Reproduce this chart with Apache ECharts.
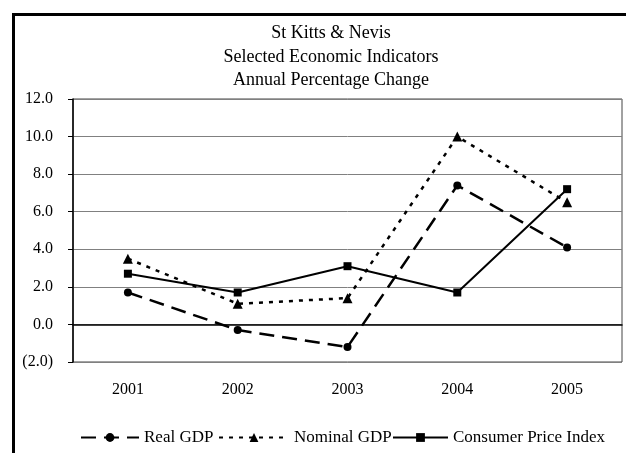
<!DOCTYPE html>
<html>
<head>
<meta charset="utf-8">
<script src="https://cdn.jsdelivr.net/npm/echarts@6/dist/echarts.min.js"></script>
<style>
  html, body { margin: 0; padding: 0; background: #fff; }
  #main { width: 626px; height: 453px; }
</style>
</head>
<body>
<div id="main"></div>
<script>
// data
var years = ['2001', '2002', '2003', '2004', '2005'];
var realGdp = [1.7, -0.3, -1.2, 7.4, 4.1];
var nominalGdp = [3.5, 1.1, 1.4, 10.0, 6.5];
var cpi = [2.7, 1.7, 3.1, 1.7, 7.2];
var seriesNames = ['Real GDP', 'Nominal GDP', 'Consumer Price Index'];

var font = 'Liberation Serif';

var myChart = echarts.init(document.getElementById('main'));

function legendFor(name, left, width) {
    return {
        left: left,
        top: 429,
        padding: 0,
        itemWidth: width,
        itemHeight: 11,
        textStyle: { fontFamily: font, fontSize: 17, color: '#000' },
        data: [name]
    };
}

var option = {
    animation: false,
    backgroundColor: '#fff',
    title: {
        text: 'St Kitts & Nevis\nSelected Economic Indicators\nAnnual Percentage Change',
        left: 326,
        top: 17,
        textAlign: 'center',
        textStyle: {
            fontFamily: font,
            fontSize: 18,
            fontWeight: 'normal',
            color: '#000',
            lineHeight: 23.5
        }
    },
    graphic: [{
        type: 'rect',
        shape: { x: 13.5, y: 14.5, width: 700, height: 500 },
        style: { fill: 'none', stroke: '#000', lineWidth: 3 },
        silent: true
    }],
    grid: {
        left: 73,
        right: 4,
        top: 99,
        bottom: 91,
        show: true,
        borderColor: '#444',
        borderWidth: 1
    },
    legend: [
        legendFor(seriesNames[0], 80, 58),
        legendFor(seriesNames[1], 218, 70),
        legendFor(seriesNames[2], 392, 55)
    ],
    xAxis: {
        type: 'category',
        data: years,
        boundaryGap: true,
        axisLine: { lineStyle: { color: '#000', width: 1.5 } },
        axisTick: { show: false },
        axisLabel: { margin: 20, fontFamily: font, fontSize: 16, color: '#000' },
        splitLine: { show: false }
    },
    yAxis: {
        type: 'value',
        min: -2,
        max: 12,
        interval: 2,
        axisLine: { show: true, lineStyle: { color: '#000', width: 1.5 } },
        axisTick: { show: true, length: 5, lineStyle: { color: '#000' } },
        axisLabel: {
            margin: 20,
            fontFamily: font,
            fontSize: 16,
            color: '#000',
            formatter: function (v) {
                if (v < 0) return '(' + Math.abs(v).toFixed(1) + ')';
                return v.toFixed(1);
            }
        },
        splitLine: { show: true, lineStyle: { color: '#808080', width: 1 } }
    },
    series: [
        {
            name: seriesNames[0],
            type: 'line',
            data: realGdp,
            symbol: 'circle',
            symbolSize: 8,
            itemStyle: { color: '#000' },
            lineStyle: { color: '#000', width: 2.5, type: [15, 8] }
        },
        {
            name: seriesNames[1],
            type: 'line',
            data: nominalGdp,
            symbol: 'triangle',
            symbolSize: 10,
            itemStyle: { color: '#000' },
            lineStyle: { color: '#000', width: 2.5, type: [4, 6] }
        },
        {
            name: seriesNames[2],
            type: 'line',
            data: cpi,
            symbol: 'rect',
            symbolSize: 8,
            itemStyle: { color: '#000' },
            lineStyle: { color: '#000', width: 2, type: 'solid' }
        }
    ]
};

myChart.setOption(option);
</script>
</body>
</html>
